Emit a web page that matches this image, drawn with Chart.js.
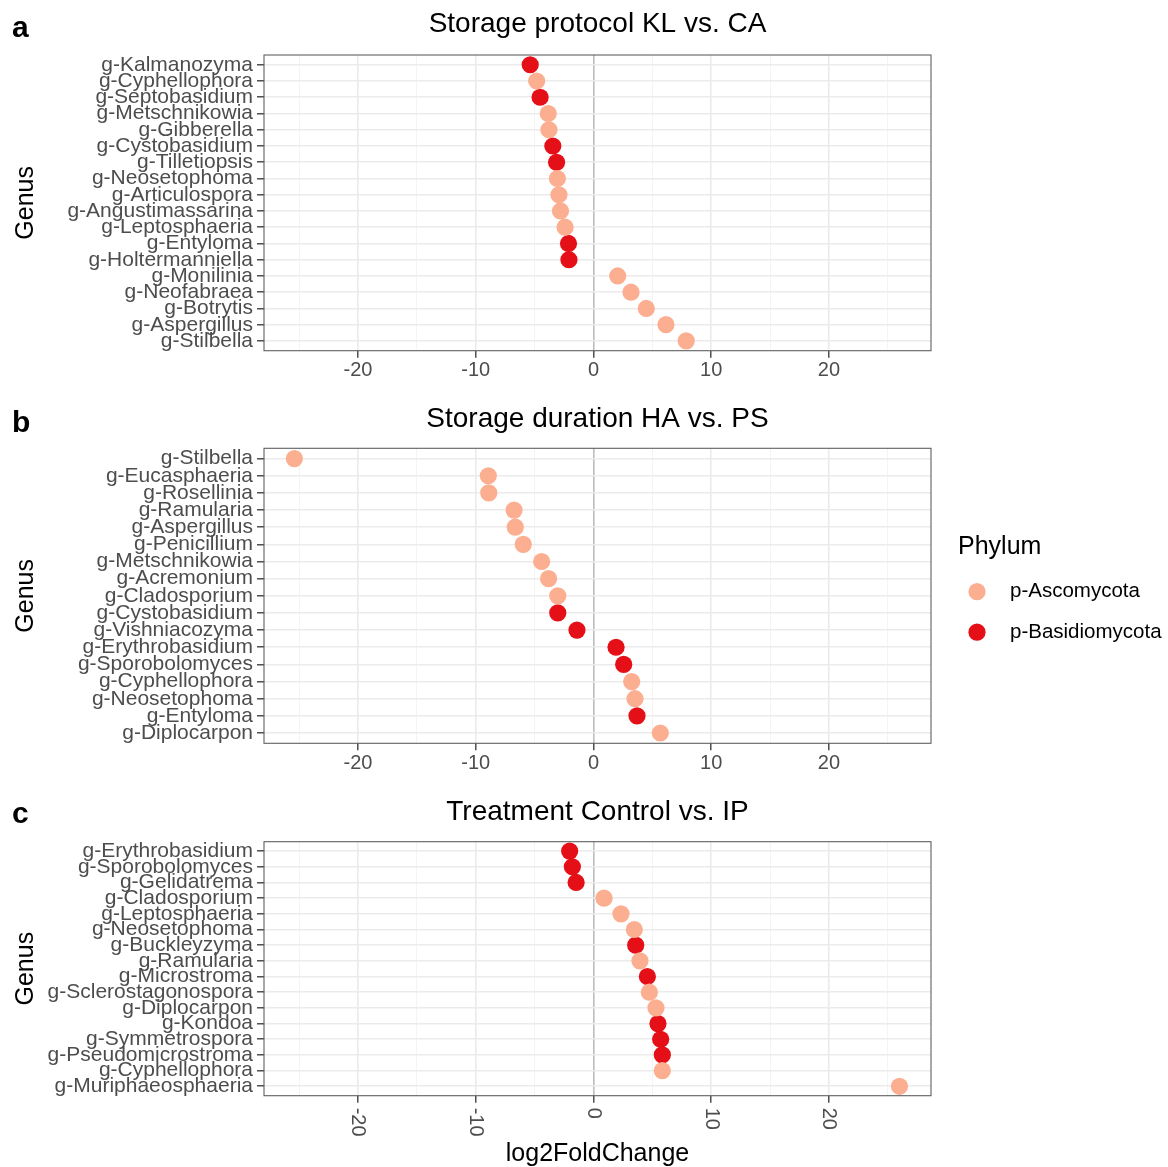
<!DOCTYPE html>
<html>
<head>
<meta charset="utf-8">
<script src="https://cdn.jsdelivr.net/npm/chart.js@4.4.1/dist/chart.umd.min.js"></script>
<style>
  html, body { margin: 0; padding: 0; background: #fff; overflow: hidden; }
  .panel { position: absolute; left: 0; width: 1168px; }
</style>
</head>
<body>
<div class="panel" style="top:0;height:392px"><canvas id="chartA" width="1168" height="392"></canvas></div>
<div class="panel" style="top:392px;height:392px"><canvas id="chartB" width="1168" height="392"></canvas></div>
<div class="panel" style="top:784px;height:383px"><canvas id="chartC" width="1168" height="383"></canvas></div>
<script>
// phylum groups and their colours
const ASCO = 'p-Ascomycota';
const BASID = 'p-Basidiomycota';
const phyla = [ASCO, BASID];
const phylumColors = ['#FCAE91', '#E50F17'];

// x axis (log2FoldChange), shared by all panels
const xMin = -27.98;
const xMax = 28.67;
const majorTicks = [-20, -10, 0, 10, 20];
const minorTicks = [-25, -15, -5, 5, 15, 25];

// panel a: Storage protocol KL vs. CA
const genusA = ['g-Kalmanozyma', 'g-Cyphellophora', 'g-Septobasidium', 'g-Metschnikowia', 'g-Gibberella',
  'g-Cystobasidium', 'g-Tilletiopsis', 'g-Neosetophoma', 'g-Articulospora', 'g-Angustimassarina',
  'g-Leptosphaeria', 'g-Entyloma', 'g-Holtermanniella', 'g-Monilinia', 'g-Neofabraea', 'g-Botrytis',
  'g-Aspergillus', 'g-Stilbella'];
const lfcA = [-5.37, -4.82, -4.53, -3.84, -3.78, -3.45, -3.13, -3.06, -2.93, -2.80, -2.41, -2.12, -2.08,
  2.06, 3.19, 4.49, 6.16, 7.88];
const phylumA = [BASID, ASCO, BASID, ASCO, ASCO, BASID, BASID, ASCO, ASCO, ASCO, ASCO, BASID, BASID,
  ASCO, ASCO, ASCO, ASCO, ASCO];

// panel b: Storage duration HA vs. PS
const genusB = ['g-Stilbella', 'g-Eucasphaeria', 'g-Rosellinia', 'g-Ramularia', 'g-Aspergillus',
  'g-Penicillium', 'g-Metschnikowia', 'g-Acremonium', 'g-Cladosporium', 'g-Cystobasidium',
  'g-Vishniacozyma', 'g-Erythrobasidium', 'g-Sporobolomyces', 'g-Cyphellophora', 'g-Neosetophoma',
  'g-Entyloma', 'g-Diplocarpon'];
const lfcB = [-25.4, -8.93, -8.89, -6.74, -6.64, -5.96, -4.40, -3.81, -3.03, -3.03, -1.40,
  1.92, 2.57, 3.25, 3.53, 3.70, 5.68];
const phylumB = [ASCO, ASCO, ASCO, ASCO, ASCO, ASCO, ASCO, ASCO, ASCO, BASID, BASID,
  BASID, BASID, ASCO, ASCO, BASID, ASCO];

// panel c: Treatment Control vs. IP
const genusC = ['g-Erythrobasidium', 'g-Sporobolomyces', 'g-Gelidatrema', 'g-Cladosporium',
  'g-Leptosphaeria', 'g-Neosetophoma', 'g-Buckleyzyma', 'g-Ramularia', 'g-Microstroma',
  'g-Sclerostagonospora', 'g-Diplocarpon', 'g-Kondoa', 'g-Symmetrospora', 'g-Pseudomicrostroma',
  'g-Cyphellophora', 'g-Muriphaeosphaeria'];
const lfcC = [-2.02, -1.79, -1.47, 0.90, 2.34, 3.47, 3.59, 3.95, 4.58, 4.75, 5.31, 5.48, 5.71, 5.85,
  5.85, 25.99];
const phylumC = [BASID, BASID, BASID, ASCO, ASCO, ASCO, BASID, ASCO, BASID, ASCO, ASCO, BASID, BASID,
  BASID, ASCO, ASCO];

const FAMILY = "'Liberation Sans', Arial, Helvetica, sans-serif";
Chart.defaults.font.family = FAMILY;

const isMajor = v => majorTicks.includes(v);

// panel frame (ggplot panel.border), drawn over the points
const framePlugin = {
  id: 'frame',
  afterDatasetsDraw(chart) {
    const a = chart.chartArea, ctx = chart.ctx;
    ctx.save();
    ctx.strokeStyle = '#606060';
    ctx.lineWidth = 1.1;
    ctx.strokeRect(a.left, a.top, a.right - a.left, a.bottom - a.top);
    ctx.restore();
  }
};

// bold panel letter in the top-left corner
const tagPlugin = {
  id: 'tag',
  afterDraw(chart, args, opts) {
    if (!opts.text) return;
    const ctx = chart.ctx;
    ctx.save();
    ctx.font = 'bold 30px ' + FAMILY;
    ctx.fillStyle = '#000';
    ctx.textBaseline = 'alphabetic';
    ctx.fillText(opts.text, 12, opts.y);
    ctx.restore();
  }
};

// x tick labels turned 90 degrees clockwise (panel c)
const rotatedTicksPlugin = {
  id: 'rotTicks',
  afterDraw(chart, args, opts) {
    if (!opts.on) return;
    const s = chart.scales.x, ctx = chart.ctx;
    ctx.save();
    ctx.font = '20px ' + FAMILY;
    ctx.fillStyle = '#4D4D4D';
    ctx.textAlign = 'left';
    ctx.textBaseline = 'middle';
    majorTicks.forEach(v => {
      ctx.save();
      ctx.translate(s.getPixelForValue(v), chart.chartArea.bottom + 12);
      ctx.rotate(Math.PI / 2);
      ctx.fillText(String(v), 0, 0);
      ctx.restore();
    });
    ctx.restore();
  }
};

// phylum legend placed to the right of panel b
const phylumLegendPlugin = {
  id: 'phylumLegend',
  afterDraw(chart, args, opts) {
    if (!opts.on) return;
    const ctx = chart.ctx;
    ctx.save();
    ctx.textAlign = 'left';
    ctx.textBaseline = 'middle';
    ctx.fillStyle = '#000';
    ctx.font = '25px ' + FAMILY;
    ctx.fillText('Phylum', 958, opts.titleY);
    ctx.font = '20.5px ' + FAMILY;
    chart.data.datasets.forEach((ds, i) => {
      const y = opts.itemY + i * 40.5;
      ctx.fillStyle = ds.backgroundColor;
      ctx.beginPath();
      ctx.arc(977, y, 8.6, 0, Math.PI * 2);
      ctx.fill();
      ctx.fillStyle = '#000';
      ctx.fillText(ds.label, 1010, y);
    });
    ctx.restore();
  }
};

function makePanel(id, p) {
  const n = p.genus.length;
  const datasets = phyla.map((ph, k) => ({
    label: ph,
    data: p.genus.map((g, i) => ({ x: p.lfc[i], y: i, ph: p.phylum[i] }))
      .filter(d => d.ph === ph),
    backgroundColor: phylumColors[k],
    borderWidth: 0,
    pointRadius: 8.6,
    pointHoverRadius: 8.6
  }));

  return new Chart(document.getElementById(id), {
    type: 'scatter',
    data: { datasets },
    options: {
      responsive: false,
      animation: false,
      events: [],
      layout: { padding: { left: 0, right: 237, top: 0, bottom: 0 }, autoPadding: false },
      plugins: {
        legend: { display: false },
        tooltip: { enabled: false },
        title: {
          display: true,
          text: p.title,
          fullSize: false,
          color: '#000',
          font: { size: 28, weight: 'normal' },
          padding: { top: p.titleTop, bottom: p.titleBottom }
        },
        tag: { text: p.tag, y: p.tagY },
        rotTicks: { on: !!p.rotated },
        phylumLegend: { on: !!p.legend, titleY: 155.5, itemY: 199.7 }
      },
      scales: {
        x: {
          type: 'linear',
          min: xMin,
          max: xMax,
          afterBuildTicks: s => { s.ticks = majorTicks.concat(minorTicks).sort((a, b) => a - b).map(v => ({ value: v })); },
          afterFit: s => { s.height = p.xHeight; },
          border: { display: false },
          grid: {
            color: c => (c.tick && c.tick.value === 0) ? '#BDBDBD' : (c.tick && isMajor(c.tick.value) ? '#EBEBEB' : '#F3F3F3'),
            lineWidth: c => (c.tick && isMajor(c.tick.value)) ? 1.6 : 0.9,
            tickColor: c => (c.tick && isMajor(c.tick.value)) ? '#333333' : 'rgba(0,0,0,0)',
            tickLength: 7,
            tickWidth: 1.3
          },
          ticks: {
            autoSkip: false,
            maxRotation: 0,
            padding: 1,
            color: '#4D4D4D',
            font: { size: 20 },
            callback: v => (!p.rotated && isMajor(v)) ? String(v) : ''
          },
          title: {
            display: !!p.xTitle,
            text: 'log2FoldChange',
            color: '#000',
            font: { size: 25 },
            padding: { top: 0, bottom: -2 }
          }
        },
        y: {
          type: 'linear',
          reverse: true,
          min: -0.6,
          max: n - 0.4,
          afterBuildTicks: s => { s.ticks = p.genus.map((g, i) => ({ value: i })); },
          afterFit: s => { s.width = 264; },
          border: { display: false },
          grid: { color: '#EBEBEB', lineWidth: 1.6, tickColor: '#333333', tickLength: 7, tickWidth: 1.3 },
          ticks: {
            autoSkip: false,
            padding: 4,
            color: '#4D4D4D',
            font: { size: 21 },
            callback: v => p.genus[v]
          },
          title: {
            display: true,
            text: 'Genus',
            color: '#000',
            font: { size: 25 },
            padding: { top: 11, bottom: 0 }
          }
        }
      }
    },
    plugins: [framePlugin, tagPlugin, rotatedTicksPlugin, phylumLegendPlugin]
  });
}

makePanel('chartA', {
  title: 'Storage protocol KL vs. CA', tag: 'a', tagY: 37,
  genus: genusA, lfc: lfcA, phylum: phylumA,
  titleTop: 7.8, titleBottom: 13.6, xHeight: 41.3
});
makePanel('chartB', {
  title: 'Storage duration HA vs. PS', tag: 'b', tagY: 40, legend: true,
  genus: genusB, lfc: lfcB, phylum: phylumB,
  titleTop: 10.5, titleBottom: 12.2, xHeight: 40.7
});
makePanel('chartC', {
  title: 'Treatment Control vs. IP', tag: 'c', tagY: 39, rotated: true, xTitle: true,
  genus: genusC, lfc: lfcC, phylum: phylumC,
  titleTop: 11.2, titleBottom: 12.9, xHeight: 71.3
});
</script>
</body>
</html>
